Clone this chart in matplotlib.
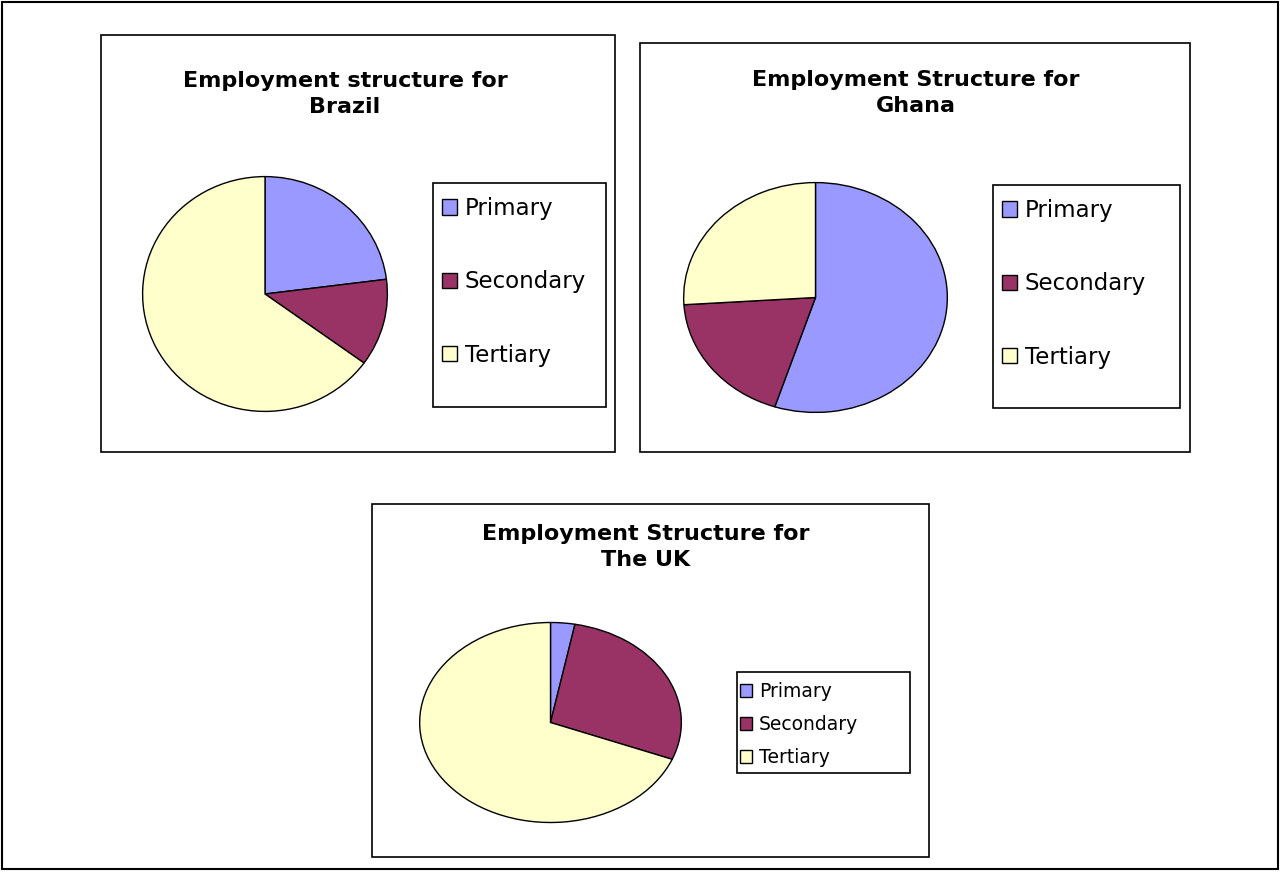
import matplotlib
matplotlib.use("Agg")
import matplotlib.pyplot as plt
from matplotlib.patches import Rectangle

# ---- data ----
sectors = ["Primary", "Secondary", "Tertiary"]
brazil = [23, 12, 65]
ghana = [55, 19, 26]
uk = [3, 28, 69]
titles = ["Employment structure for\nBrazil",
          "Employment Structure for\nGhana",
          "Employment Structure for\nThe UK"]
colors = ["#9999FF", "#993366", "#FFFFCC"]

W, H = 1281, 872
fig = plt.figure(figsize=(W / 100, H / 100), dpi=100)
fig.patch.set_facecolor("white")


def fx(x):
    return x / W


def fy(y):
    return 1 - y / H


def frame(x0, y0, x1, y1, lw=1.2):
    fig.patches.append(Rectangle((fx(x0), fy(y1)), fx(x1 - x0), (y1 - y0) / H,
                                 transform=fig.transFigure, fill=False,
                                 edgecolor="black", linewidth=lw))


# outer frame
frame(2, 2, 1278, 869, lw=1.5)

panels = [
    dict(vals=brazil, title=titles[0], box=(101, 35, 615, 452), pie=(142, 176, 388, 412),
         tc=(345, 94), leg=(433, 183, 606, 407), lxo=9, ly=197, lfs=16.5, lsp=2.2),
    dict(vals=ghana, title=titles[1], box=(640, 43, 1190, 452), pie=(683, 182, 948, 413),
         tc=(916, 93), leg=(993, 185, 1180, 408), lxo=9, ly=199, lfs=16.5, lsp=2.2),
    dict(vals=uk, title=titles[2], box=(372, 504, 929, 857), pie=(419, 622, 682, 823),
         tc=(646, 547), leg=(737, 672, 910, 773), lxo=3, ly=682, lfs=13.5, lsp=0.75),
]

for p in panels:
    frame(*p["box"])
    x0, y0, x1, y1 = p["pie"]
    ax = fig.add_axes([fx(x0), fy(y1), fx(x1 - x0), (y1 - y0) / H])
    wedges, _ = ax.pie(p["vals"], colors=colors, startangle=90, counterclock=False,
                       wedgeprops=dict(edgecolor="black", linewidth=1.0))
    ax.set_aspect("auto")
    ax.set_xlim(-1.005, 1.005)
    ax.set_ylim(-1.005, 1.005)
    ax.axis("off")

    fig.text(fx(p["tc"][0]), fy(p["tc"][1]), p["title"], ha="center", va="center",
             fontsize=16, fontweight="bold", family="DejaVu Sans", linespacing=1.4)

    lx0, ly0, lx1, ly1 = p["leg"]
    frame(lx0, ly0, lx1, ly1, lw=1.2)
    fig.legend(wedges, sectors, loc="upper left",
               bbox_to_anchor=(fx(lx0 + p["lxo"]), fy(p["ly"])),
               bbox_transform=fig.transFigure, frameon=False,
               fontsize=p["lfs"], handlelength=0.65, handleheight=0.65,
               handletextpad=0.35, labelspacing=p["lsp"], borderpad=0.0,
               borderaxespad=0.0)

fig.savefig("out.png", dpi=100, facecolor="white")
